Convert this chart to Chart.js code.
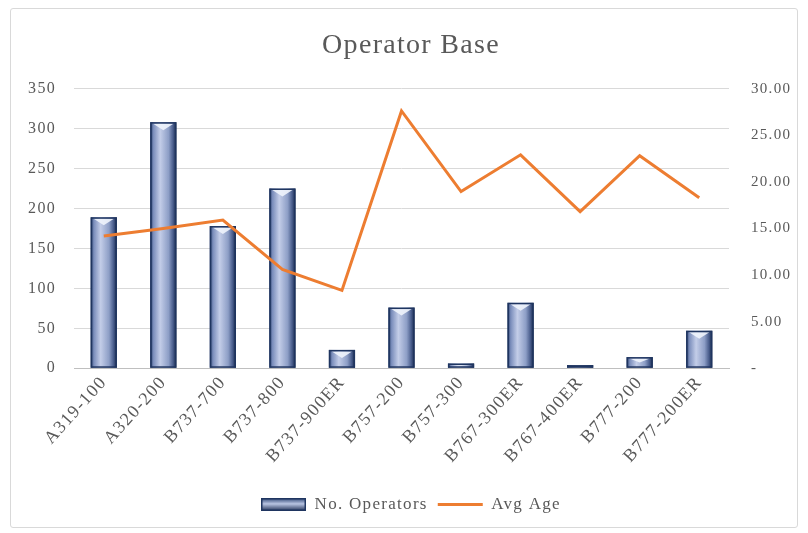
<!DOCTYPE html>
<html>
<head>
<meta charset="utf-8">
<script src="https://cdn.jsdelivr.net/npm/chart.js@4.4.1/dist/chart.umd.min.js"></script>
<style>
  html, body { margin: 0; padding: 0; background: #ffffff; }
  #box {
    position: absolute; left: 10px; top: 8px; width: 786px; height: 518px;
    border: 1px solid #d9d9d9; border-radius: 3px; background: #fff;
  }
  #chart { display: block; }
</style>
</head>
<body>
<div id="box"><canvas id="chart" width="786" height="518"></canvas></div>
<script>
// values
const aircraft = ['A319-100', 'A320-200', 'B737-700', 'B737-800', 'B737-900ER', 'B757-200',
  'B757-300', 'B767-300ER', 'B767-400ER', 'B777-200', 'B777-200ER'];
const operators = [189, 308, 178, 225, 23, 76, 6, 82, 4, 14, 47];
const avgAge = [14.2, 15.0, 15.9, 10.6, 8.35, 27.6, 18.95, 22.9, 16.8, 22.8, 18.3];

const grey = '#595959';
const serif = "'Liberation Serif', 'DejaVu Serif', serif";

function barGradient(ctx, left, right) {
  const g = ctx.createLinearGradient(left, 0, right, 0);
  g.addColorStop(0, '#223864');
  g.addColorStop(0.12, '#7a8dbb');
  g.addColorStop(0.38, '#c3cde8');
  g.addColorStop(0.7, '#8d9ec6');
  g.addColorStop(0.88, '#465a89');
  g.addColorStop(1, '#172645');
  return g;
}

function paintBar(ctx, left, top, w, h) {
  ctx.save();
  ctx.fillStyle = barGradient(ctx, left, left + w);
  ctx.fillRect(left, top, w, h);
  // bevel on top
  const bev = Math.min(8, h / 2);
  ctx.fillStyle = 'rgba(240,244,252,0.9)';
  ctx.beginPath();
  ctx.moveTo(left + 3, top + 1.5);
  ctx.lineTo(left + w - 3, top + 1.5);
  ctx.lineTo(left + w / 2, top + bev);
  ctx.closePath();
  ctx.fill();
  ctx.strokeStyle = '#1f3560';
  ctx.lineWidth = 1.5;
  ctx.strokeRect(left + 0.75, top + 0.75, w - 1.5, h - 1.5);
  ctx.restore();
}

// legend swatch for the bars
const swatch = document.createElement('canvas');
swatch.width = 45; swatch.height = 13;
(function () {
  const c = swatch.getContext('2d');
  const g = c.createLinearGradient(0, 0, 0, 13);
  g.addColorStop(0, '#2a4272');
  g.addColorStop(0.45, '#b9c5e3');
  g.addColorStop(1, '#1e2f55');
  c.fillStyle = g;
  c.fillRect(0, 0, 45, 13);
  c.strokeStyle = '#1f3560';
  c.lineWidth = 1.5;
  c.strokeRect(0.75, 0.75, 43.5, 11.5);
})();

const cylinderBars = {
  id: 'cylinderBars',
  afterDatasetDraw(chart, args) {
    if (args.index !== 0) return;
    const ctx = chart.ctx;
    args.meta.data.forEach(el => {
      const p = el.getProps(['x', 'y', 'base', 'width'], true);
      const left = p.x - p.width / 2;
      const top = Math.min(p.y, p.base);
      const h = Math.abs(p.base - p.y);
      if (h > 0) paintBar(ctx, left, top, p.width, h);
    });
  }
};

// the source text is set a little wide
const wideText = {
  id: 'wideText',
  beforeLayout(chart) { chart.ctx.letterSpacing = '1.3px'; },
  beforeDraw(chart) { chart.ctx.letterSpacing = '1.3px'; }
};

new Chart(document.getElementById('chart'), {
  type: 'bar',
  data: {
    labels: aircraft,
    datasets: [
      {
        type: 'bar',
        label: 'No. Operators',
        data: operators,
        yAxisID: 'y',
        backgroundColor: 'rgba(0,0,0,0)',
        borderWidth: 0,
        barPercentage: 0.44,
        categoryPercentage: 1,
        pointStyle: swatch,
        order: 2
      },
      {
        type: 'line',
        label: 'Avg Age',
        data: avgAge,
        yAxisID: 'y1',
        borderColor: '#ed7d31',
        backgroundColor: '#ed7d31',
        borderWidth: 3,
        pointRadius: 0,
        tension: 0,
        pointStyle: 'line',
        order: 1
      }
    ]
  },
  plugins: [wideText, cylinderBars],
  options: {
    responsive: false,
    animation: false,
    layout: { padding: { left: 17, right: 3, top: 6, bottom: 4 } },
    plugins: {
      title: {
        display: true,
        text: 'Operator Base',
        color: grey,
        font: { family: serif, size: 28, weight: 'normal' },
        padding: { top: 14, bottom: 26 }
      },
      legend: {
        position: 'bottom',
        labels: {
          usePointStyle: true,
          pointStyleWidth: 45,
          color: grey,
          font: { family: serif, size: 17 },
          padding: 10,
          sort: (a, b) => a.datasetIndex - b.datasetIndex
        }
      },
      tooltip: { enabled: false }
    },
    scales: {
      x: {
        grid: { display: false, drawTicks: false },
        border: { color: '#bfbfbf', width: 1 },
        afterFit: s => { s.paddingLeft = 0; s.paddingRight = 0; s.height += 15; },
        ticks: {
          color: grey,
          font: { family: serif, size: 18 },
          minRotation: 48,
          maxRotation: 48,
          padding: 4
        }
      },
      y: {
        position: 'left',
        min: 0,
        max: 350,
        grid: { color: '#d9d9d9', drawTicks: false },
        border: { display: false },
        afterFit: s => { s.width = 46; },
        ticks: {
          stepSize: 50,
          color: grey,
          font: { family: serif, size: 16 },
          padding: 18
        }
      },
      y1: {
        position: 'right',
        min: 0,
        max: 30,
        grid: { display: false, drawTicks: false },
        border: { display: false },
        afterFit: s => { s.width = 65; },
        ticks: {
          stepSize: 5,
          color: grey,
          font: { family: serif, size: 15 },
          padding: 22,
          callback: v => v === 0 ? '-' : v.toFixed(2)
        }
      }
    }
  }
});
</script>
</body>
</html>
